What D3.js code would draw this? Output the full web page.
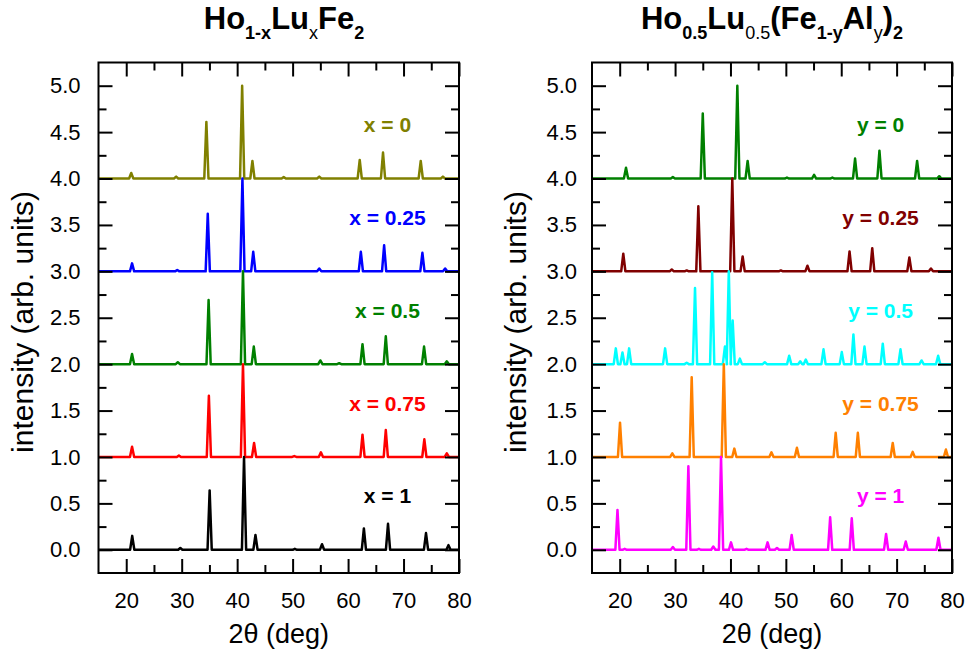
<!DOCTYPE html>
<html>
<head>
<meta charset="utf-8">
<script src="https://cdn.jsdelivr.net/npm/d3@7"></script>
<style>
  body { margin: 0; background: #fff; }
  svg text { font-family: "Liberation Sans", Arial, Helvetica, sans-serif; }
</style>
</head>
<body>
<div id="chart"></div>
<script>
// tick values
const twoThetaMajor = [20, 30, 40, 50, 60, 70, 80];
const twoThetaMinor = [25, 35, 45, 55, 65, 75];
const intensityMajor = [0, 0.5, 1, 1.5, 2, 2.5, 3, 3.5, 4, 4.5, 5];
const intensityMinor = [0.25, 0.75, 1.25, 1.75, 2.25, 2.75, 3.25, 3.75, 4.25, 4.75];

// Ho(1-x)Lu(x)Fe2 : peaks as [2theta, normalised height]
const peaksX0 = [[20.9, 0.06], [29.0, 0.02], [34.45, 0.61], [40.9, 1.0], [42.75, 0.19], [48.4, 0.015], [54.8, 0.02], [62.1, 0.2], [66.3, 0.28], [73.1, 0.19], [77.1, 0.02]];
const peaksX025 = [[21.05, 0.086], [29.2, 0.015], [34.7, 0.62], [40.95, 1.0], [42.9, 0.21], [54.8, 0.03], [62.3, 0.21], [66.5, 0.28], [73.4, 0.2], [77.5, 0.03]];
const peaksX05 = [[21.05, 0.11], [29.3, 0.02], [34.85, 0.69], [41.05, 1.0], [43.0, 0.19], [55.0, 0.04], [58.4, 0.01], [62.6, 0.215], [66.8, 0.3], [73.7, 0.19], [77.8, 0.03]];
const peaksX075 = [[21.05, 0.11], [29.5, 0.015], [34.9, 0.66], [41.05, 1.0], [43.05, 0.15], [50.3, 0.01], [55.1, 0.05], [62.6, 0.24], [66.8, 0.29], [73.75, 0.19], [77.8, 0.04]];
const peaksX1 = [[21.08, 0.15], [29.75, 0.02], [35.04, 0.64], [41.24, 1.0], [43.3, 0.16], [50.4, 0.01], [55.3, 0.06], [62.85, 0.23], [67.2, 0.28], [74.05, 0.18], [78.1, 0.05]];

const luLabels = ["x = 0", "x = 0.25", "x = 0.5", "x = 0.75", "x = 1"];
const luOffsets = [4, 3, 2, 1, 0];
const luColors = ["#808000", "#0000ff", "#008000", "#ff0000", "#000000"];
const luPeaks = [peaksX0, peaksX025, peaksX05, peaksX075, peaksX1];

// Ho0.5Lu0.5(Fe(1-y)Al(y))2
const peaksY0 = [[21.14, 0.115], [29.6, 0.015], [35.0, 0.70], [41.24, 1.0], [43.1, 0.19], [50.2, 0.01], [55.1, 0.04], [58.4, 0.01], [62.5, 0.215], [66.9, 0.30], [73.7, 0.19], [77.7, 0.025]];
const peaksY025 = [[20.65, 0.19], [29.4, 0.02], [32.1, 0.01], [34.2, 0.70], [40.33, 1.0], [42.2, 0.16], [49.1, 0.01], [53.9, 0.06], [61.5, 0.215], [65.6, 0.25], [72.3, 0.15], [76.2, 0.03]];
const peaksY05 = [[19.3, 0.17], [20.5, 0.125], [21.7, 0.17], [28.2, 0.17], [32.1, 0.015], [33.6, 0.82], [36.7, 0.99], [39.0, 0.19], [39.7, 1.0], [40.4, 0.47], [41.7, 0.06], [46.2, 0.02], [50.6, 0.09], [52.6, 0.03], [53.6, 0.05], [56.8, 0.16], [60.1, 0.13], [62.2, 0.32], [64.2, 0.19], [67.5, 0.22], [70.7, 0.16], [74.5, 0.04], [77.5, 0.09]];
const peaksY075 = [[20.06, 0.37], [29.5, 0.04], [33.0, 0.86], [38.8, 1.0], [40.7, 0.09], [47.4, 0.05], [52.0, 0.10], [59.0, 0.26], [63.0, 0.26], [69.3, 0.15], [72.9, 0.055], [78.9, 0.08]];
const peaksY1 = [[19.6, 0.43], [20.9, 0.01], [29.6, 0.03], [32.4, 0.9], [34.3, 0.01], [36.9, 0.035], [38.3, 1.0], [40.1, 0.08], [42.9, 0.01], [46.7, 0.08], [48.4, 0.02], [51.05, 0.16], [58.0, 0.35], [61.9, 0.34], [68.1, 0.17], [71.65, 0.09], [77.55, 0.13]];

const alLabels = ["y = 0", "y = 0.25", "y = 0.5", "y = 0.75", "y = 1"];
const alOffsets = [4, 3, 2, 1, 0];
const alColors = ["#008000", "#800000", "#00ffff", "#ff8000", "#ff00ff"];
const alPeaks = [peaksY0, peaksY025, peaksY05, peaksY075, peaksY1];

// titles: [text, bold, subscript]
const luTitle = [["Ho", true, false], ["1-x", true, true], ["Lu", true, false], ["x", false, true], ["Fe", true, false], ["2", true, true]];
const alTitle = [["Ho", true, false], ["0.5", true, true], ["Lu", true, false], ["0.5", false, true], ["(Fe", true, false], ["1-y", true, true], ["Al", true, false], ["y", false, true], [")", true, false], ["2", true, true]];

const svg = d3.select("#chart").append("svg")
    .attr("width", 966)
    .attr("height", 656);

function drawPanel(cfg) {
    const top = 62.5, bottom = 573;
    const x = d3.scaleLinear().domain([15, 80]).range([cfg.left, cfg.right]);
    const y = d3.scaleLinear().domain([-0.25, 5.25]).range([bottom, top]);
    const g = svg.append("g");

    // clip for the patterns
    g.append("clipPath").attr("id", cfg.id + "-clip")
        .append("rect")
        .attr("x", cfg.left).attr("y", top)
        .attr("width", cfg.right - cfg.left).attr("height", bottom - top);

    const line = d3.line().x(d => x(d[0])).y(d => y(d[1]));
    const halfWidth = 0.38;

    cfg.peaks.forEach((peaks, i) => {
        const off = cfg.offsets[i];
        const pts = [[15, off]];
        peaks.forEach(([p, h]) => {
            pts.push([p - halfWidth, off], [p, off + h], [p + halfWidth, off]);
        });
        pts.push([80, off]);

        g.append("path")
            .attr("clip-path", `url(#${cfg.id}-clip)`)
            .attr("d", line(pts))
            .attr("fill", "none")
            .attr("stroke", cfg.colors[i])
            .attr("stroke-width", 2.5)
            .attr("stroke-linejoin", "round");

        g.append("text")
            .attr("x", x(67.1))
            .attr("y", y(off + 0.5))
            .attr("text-anchor", "middle")
            .attr("font-size", 21)
            .attr("font-weight", "bold")
            .attr("fill", cfg.colors[i])
            .text(cfg.labels[i]);
    });

    // axes, ticks pointing inward on all four sides
    const addAxis = (axis, tx, ty, vals, size, labels) => {
        const a = g.append("g")
            .attr("transform", `translate(${tx},${ty})`)
            .call(axis.tickValues(vals).tickSize(-size)
                .tickFormat(labels ? labels : ""));
        a.select(".domain").remove();
        a.selectAll("line").attr("stroke", "#000").attr("stroke-width", 2);
        a.selectAll("text")
            .attr("font-size", 22)
            .attr("fill", "#000")
            .style("font-family", '"Liberation Sans", Arial, sans-serif');
        return a;
    };

    addAxis(d3.axisBottom(x).tickPadding(19), 0, bottom, twoThetaMajor, 14, d3.format("d"));
    addAxis(d3.axisBottom(x), 0, bottom, twoThetaMinor, 8, null);
    addAxis(d3.axisTop(x), 0, top, twoThetaMajor, 14, null);
    addAxis(d3.axisTop(x), 0, top, twoThetaMinor, 8, null);
    addAxis(d3.axisLeft(y).tickPadding(cfg.yPad), cfg.left, 0, intensityMajor, 14, d3.format(".1f"));
    addAxis(d3.axisLeft(y), cfg.left, 0, intensityMinor, 8, null);
    addAxis(d3.axisRight(y), cfg.right, 0, intensityMajor, 14, null);
    addAxis(d3.axisRight(y), cfg.right, 0, intensityMinor, 8, null);

    // frame
    g.append("rect")
        .attr("x", cfg.left).attr("y", top)
        .attr("width", cfg.right - cfg.left).attr("height", bottom - top)
        .attr("fill", "none")
        .attr("stroke", "#000")
        .attr("stroke-width", 2);

    // axis titles
    g.append("text")
        .attr("x", (cfg.left + cfg.right) / 2)
        .attr("y", 643)
        .attr("text-anchor", "middle")
        .attr("font-size", 27)
        .text("2θ (deg)");

    g.append("text")
        .attr("transform", `translate(${cfg.left - 66},322) rotate(-90)`)
        .attr("text-anchor", "middle")
        .attr("font-size", 30)
        .text("intensity (arb. units)");

    // panel title with subscripts
    const title = g.append("text")
        .attr("x", cfg.titleX)
        .attr("y", 29)
        .attr("text-anchor", "middle");
    let wasSub = false;
    cfg.title.forEach(([txt, bold, sub]) => {
        title.append("tspan")
            .attr("dy", sub === wasSub ? 0 : (sub ? 10 : -10))
            .attr("font-size", sub ? 18 : 31)
            .attr("font-weight", bold ? "bold" : "normal")
            .text(txt);
        wasSub = sub;
    });
}

drawPanel({id: "lu", left: 98.5, right: 459, yPad: 18, titleX: 284,
    peaks: luPeaks, offsets: luOffsets, colors: luColors, labels: luLabels, title: luTitle});
drawPanel({id: "al", left: 592, right: 952, yPad: 15, titleX: 772,
    peaks: alPeaks, offsets: alOffsets, colors: alColors, labels: alLabels, title: alTitle});
</script>
</body>
</html>
